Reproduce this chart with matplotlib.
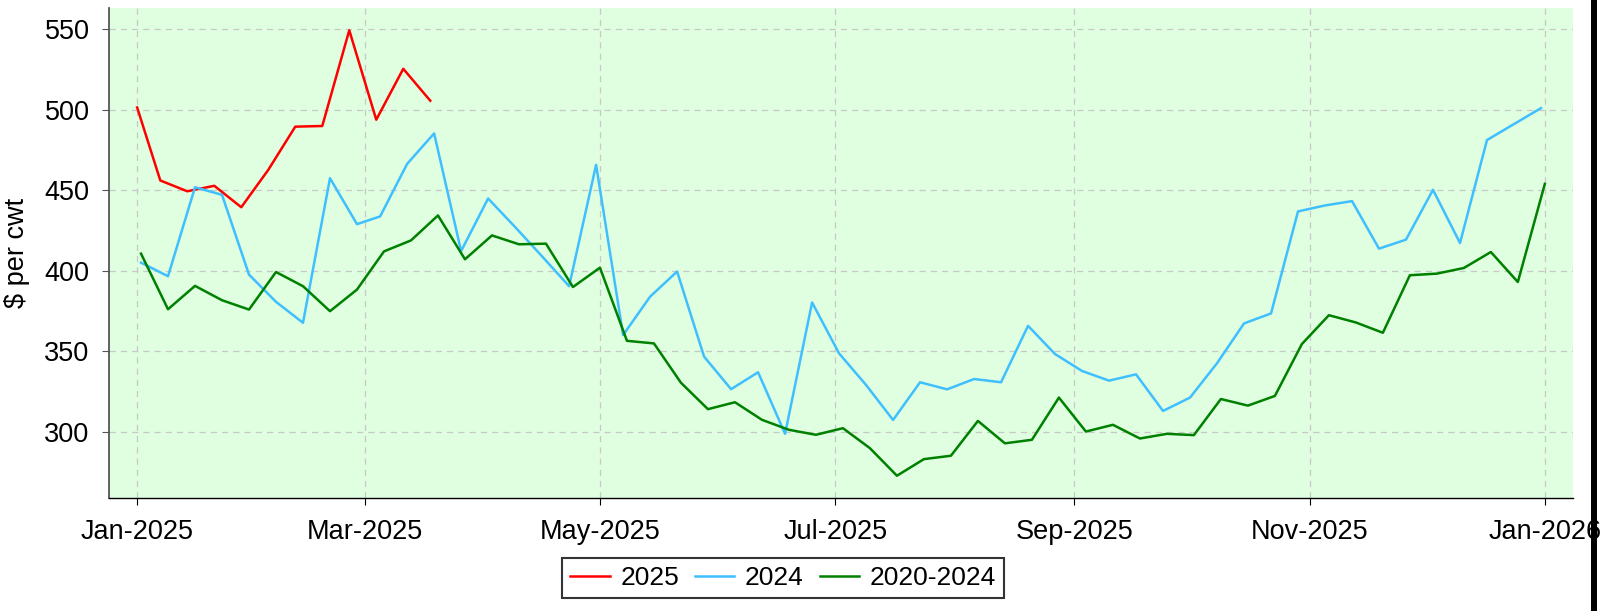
#!/usr/bin/env python3
"""Weekly price chart: 2025 vs 2024 vs 2020-2024 average ($ per cwt)."""

from __future__ import annotations

import matplotlib

matplotlib.use("Agg")

import matplotlib.dates as mdates
import matplotlib.pyplot as plt
import pandas as pd
from matplotlib.patches import Rectangle

# 2025: first report on Jan 1, then weekly Tuesdays
DATES_2025 = pd.to_datetime(["2025-01-01"]).append(
    pd.date_range("2025-01-07", periods=11, freq="7D")
)
VALUES_2025 = [501.4, 456.1, 449.4, 452.8, 439.5, 462.7, 489.5, 489.9,
               549.3, 493.8, 525.4, 505.6]

# 2024 weekly Tuesdays, shown on the 2025 calendar
DATES_2024 = pd.date_range("2024-01-02", "2024-12-31", freq="7D") + pd.DateOffset(years=1)
VALUES_2024 = [405.1, 396.7, 451.9, 447.2, 397.7, 380.8, 367.8, 457.5,
               429.0, 433.8, 466.4, 485.3, 412.3, 444.9, 427.2, 409.0,
               390.5, 465.8, 360.2, 384.0, 399.6, 346.8, 326.6, 337.1,
               298.9, 380.4, 348.8, 329.2, 307.5, 330.9, 326.5, 332.9,
               330.9, 365.9, 348.4, 337.9, 331.9, 335.8, 313.1, 321.4,
               342.7, 367.4, 373.6, 436.9, 440.6, 443.3, 413.8, 419.4,
               450.3, 417.3, 481.2, 491.1, 501.0]

# 2020-2024 average by week
DATES_AVG = pd.date_range("2025-01-02", periods=53, freq="7D")
VALUES_AVG = [410.7, 376.2, 390.7, 381.8, 376.0, 399.3, 390.5, 375.0,
              388.4, 412.1, 418.9, 434.4, 407.2, 422.0, 416.5, 416.9,
              390.0, 402.0, 356.6, 355.0, 330.6, 314.2, 318.5, 307.6,
              301.4, 298.3, 302.4, 290.0, 272.9, 283.2, 285.3, 306.9,
              293.0, 295.2, 321.4, 300.3, 304.5, 296.0, 298.9, 298.1,
              320.5, 316.4, 322.4, 354.6, 372.5, 368.0, 361.6, 397.3,
              398.3, 401.8, 411.7, 393.1, 454.0]

SERIES = [
    ("2025", DATES_2025, VALUES_2025, "#ff0000"),
    ("2024", DATES_2024, VALUES_2024, "#40bfff"),
    ("2020-2024", DATES_AVG, VALUES_AVG, "#008000"),
]

W, H = 1614, 611
FONT_SIZE = 19.5


def render(path: str) -> None:
    plt.rcParams["font.family"] = ["Liberation Sans", "DejaVu Sans"]
    fig = plt.figure(figsize=(W / 100, H / 100), dpi=100)
    ax = fig.add_axes([109 / W, 1 - 498 / H, (1573 - 109) / W, (498 - 8) / H])
    ax.set_facecolor("#e0ffe0")

    for label, dates, values, color in SERIES:
        ax.plot(dates, values, color=color, linewidth=1.8, label=label, zorder=3)

    ax.margins(x=0.02, y=0.05)
    ax.xaxis.set_major_locator(mdates.MonthLocator(bymonth=[1, 3, 5, 7, 9, 11]))
    ax.xaxis.set_major_formatter(mdates.DateFormatter("%b-%Y"))
    ax.set_yticks([300, 350, 400, 450, 500, 550])

    ax.grid(True, color="#c8c8c8", linestyle=(0, (5, 4)), linewidth=0.9)
    ax.set_axisbelow(True)

    for side in ("top", "right"):
        ax.spines[side].set_visible(False)
    ax.spines["left"].set_color("#555555")
    ax.spines["left"].set_linewidth(1.3)
    ax.spines["bottom"].set_color("black")
    ax.spines["bottom"].set_linewidth(1.0)

    ax.tick_params(axis="x", labelsize=FONT_SIZE, length=5, pad=10, color="black")
    ax.tick_params(axis="y", labelsize=FONT_SIZE, length=5, pad=9, color="#555555")
    ax.set_ylabel("$ per cwt", fontsize=FONT_SIZE, labelpad=10)

    leg = fig.legend(
        loc="lower center",
        bbox_to_anchor=(783 / W, 0.0),
        bbox_transform=fig.transFigure,
        ncol=3,
        fontsize=19,
        frameon=True,
        fancybox=False,
        edgecolor="black",
        handlelength=1.5,
        handletextpad=0.4,
        columnspacing=0.6,
        borderpad=0.3,
    )
    leg.get_frame().set_linewidth(1.5)

    # thick black edge on the right of the image
    fig.add_artist(Rectangle((1591 / W, 0), 6 / W, 1, transform=fig.transFigure,
                             facecolor="black", edgecolor="none", zorder=10))

    fig.savefig(path, dpi=100)
    plt.close(fig)


def main() -> None:
    render("out.png")


if __name__ == "__main__":
    main()
